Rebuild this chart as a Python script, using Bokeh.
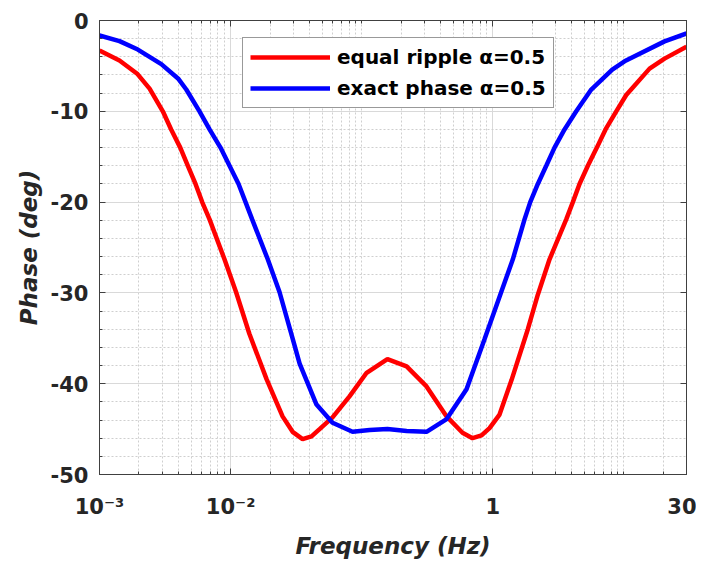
from bokeh.plotting import figure
from bokeh.models import Range1d, FixedTicker, LogAxis, LinearAxis, Legend, LegendItem
from bokeh.embed import file_html
from bokeh.resources import INLINE

# ---- data ----
red_freq = [0.001, 0.00142, 0.00195, 0.00241, 0.00304, 0.00352, 0.00413, 0.00472, 0.0054,
            0.00607, 0.00691, 0.00898, 0.0110, 0.0139, 0.0188, 0.0249, 0.0297, 0.0354,
            0.0414, 0.0477, 0.0599, 0.0807, 0.109, 0.157, 0.220, 0.312, 0.444, 0.587,
            0.700, 0.820, 0.944, 1.125, 1.389, 1.849, 2.204, 2.707, 3.630, 4.076, 4.584,
            5.305, 6.214, 7.239, 8.737, 10.41, 15.68, 20.40, 30.0]
red_phase = [-3.3, -4.4, -5.9, -7.5, -10.0, -12.0, -14.0, -16.0, -18.0,
             -20.0, -21.9, -26.3, -29.9, -34.5, -39.5, -43.6, -45.3, -46.1,
             -45.8, -45.0, -43.7, -41.4, -38.8, -37.3, -38.1, -40.3, -43.6, -45.4,
             -46.0, -45.7, -44.9, -43.4, -39.6, -34.0, -30.2, -26.3, -21.9, -20.0, -18.0,
             -16.0, -14.0, -12.0, -10.0, -8.2, -5.3, -4.2, -2.9]

blue_freq = [0.001, 0.00142, 0.00196, 0.00296, 0.00401, 0.00459, 0.00579, 0.00691, 0.00837,
             0.00981, 0.0115, 0.0130, 0.0146, 0.0192, 0.0236, 0.0298, 0.0336, 0.0452,
             0.0599, 0.0851, 0.115, 0.157, 0.220, 0.312, 0.444, 0.630, 0.864, 1.159,
             1.421, 1.745, 1.929, 2.204, 2.555, 2.955, 3.523, 4.327, 5.632, 8.143, 10.1,
             20.4, 30.0]
blue_phase = [-1.65, -2.27, -3.2, -4.8, -6.45, -7.6, -10.0, -12.0, -14.0,
              -16.0, -18.0, -20.0, -21.9, -26.3, -29.9, -35.1, -37.8, -42.3,
              -44.3, -45.3, -45.1, -45.0, -45.2, -45.3, -43.9, -40.6, -35.1, -29.9,
              -26.3, -21.9, -20.0, -18.0, -16.0, -14.0, -12.0, -10.0, -7.6, -5.4, -4.5,
              -2.3, -1.43]

x_ticks = [0.001, 0.01, 1, 30]
x_tick_labels = ["10\u207b\u00b3", "10\u207b\u00b2", "1", "30"]
x_minor = [m * d for d in (0.001, 0.01, 0.1, 1, 10) for m in range(1, 10)]
x_minor = [v for v in x_minor if v not in (0.001, 0.01, 1) and v <= 30]
y_ticks = [-50, -40, -30, -20, -10, 0]
y_tick_labels = ["-50", "-40", "-30", "-20", "-10", "0"]
y_minor = list(range(-48, 0, 2))

FONT = "DejaVu Sans"
AX = "#404040"

p = figure(width=696, height=562, x_axis_type="log",
           x_range=Range1d(1e-3, 30), y_range=Range1d(-50, 0),
           output_backend="svg", toolbar_location=None,
           min_border_left=99, min_border_right=10, min_border_top=20, min_border_bottom=88)

xticker = FixedTicker(ticks=x_ticks, minor_ticks=x_minor)
yticker = FixedTicker(ticks=y_ticks, minor_ticks=y_minor)

p.xaxis.ticker = xticker
p.yaxis.ticker = yticker
p.xaxis.major_label_overrides = {t: l for t, l in zip(x_ticks, x_tick_labels)}
p.yaxis.major_label_overrides = {t: l for t, l in zip(y_ticks, y_tick_labels)}

for ax in (p.xaxis[0], p.yaxis[0]):
    ax.major_tick_in = 6
    ax.major_tick_out = 0
    ax.minor_tick_in = 3
    ax.minor_tick_out = 0
    ax.axis_line_color = AX
    ax.major_tick_line_color = AX
    ax.minor_tick_line_color = AX
    ax.major_label_text_font = FONT
    ax.major_label_text_font_style = "bold"
    ax.major_label_text_font_size = "21px"
    ax.major_label_text_color = "#262626"
    ax.axis_label_text_font = FONT
    ax.axis_label_text_font_style = "bold italic"
    ax.axis_label_text_font_size = "23px"
    ax.axis_label_text_color = "#262626"

p.xaxis.axis_label = "Frequency (Hz)"
p.yaxis.axis_label = "Phase (deg)"
p.xaxis.major_label_standoff = 20
p.xaxis.axis_label_standoff = 11
p.yaxis.major_label_standoff = 11
p.yaxis.axis_label_standoff = 6

top = LogAxis(ticker=xticker, major_label_text_color=None, major_label_text_font_size="1px",
              major_label_standoff=0,
              major_tick_in=6, major_tick_out=0, minor_tick_in=3, minor_tick_out=0,
              axis_line_color=AX, major_tick_line_color=AX, minor_tick_line_color=AX)
p.add_layout(top, "above")
right = LinearAxis(ticker=yticker, major_label_text_color=None, major_label_text_font_size="1px",
                   major_label_standoff=0,
                   major_tick_in=6, major_tick_out=0, minor_tick_in=0, minor_tick_out=0,
                   axis_line_color=AX, major_tick_line_color=AX)
p.add_layout(right, "right")

for g in (p.xgrid[0], p.ygrid[0]):
    g.grid_line_color = "#d9d9d9"
    g.grid_line_width = 1
    g.minor_grid_line_color = "#cfcfcf"
    g.minor_grid_line_dash = "2 2"
    g.minor_grid_line_width = 1
p.ygrid.ticker = yticker
p.xgrid.ticker = xticker

p.outline_line_color = AX
p.outline_line_width = 1
p.background_fill_color = "white"
p.border_fill_color = "white"

r1 = p.line(red_freq, red_phase, line_color="#ff0000", line_width=4.5)
r2 = p.line(blue_freq, blue_phase, line_color="#0000ff", line_width=4.5)

legend = Legend(items=[LegendItem(label="equal ripple \u03b1=0.5", renderers=[r1]),
                       LegendItem(label="exact phase \u03b1=0.5", renderers=[r2])],
                location=(143, 366), orientation="vertical",
                label_text_font=FONT, label_text_font_style="bold",
                label_text_font_size="20px", label_text_color="#000000",
                glyph_width=80, glyph_height=24, label_height=24, label_standoff=7,
                padding=7, spacing=7, margin=0,
                border_line_color="#333333", border_line_width=1.5,
                background_fill_color="white", background_fill_alpha=1.0)
p.add_layout(legend)

open("out.html", "w").write(file_html(p, INLINE))
